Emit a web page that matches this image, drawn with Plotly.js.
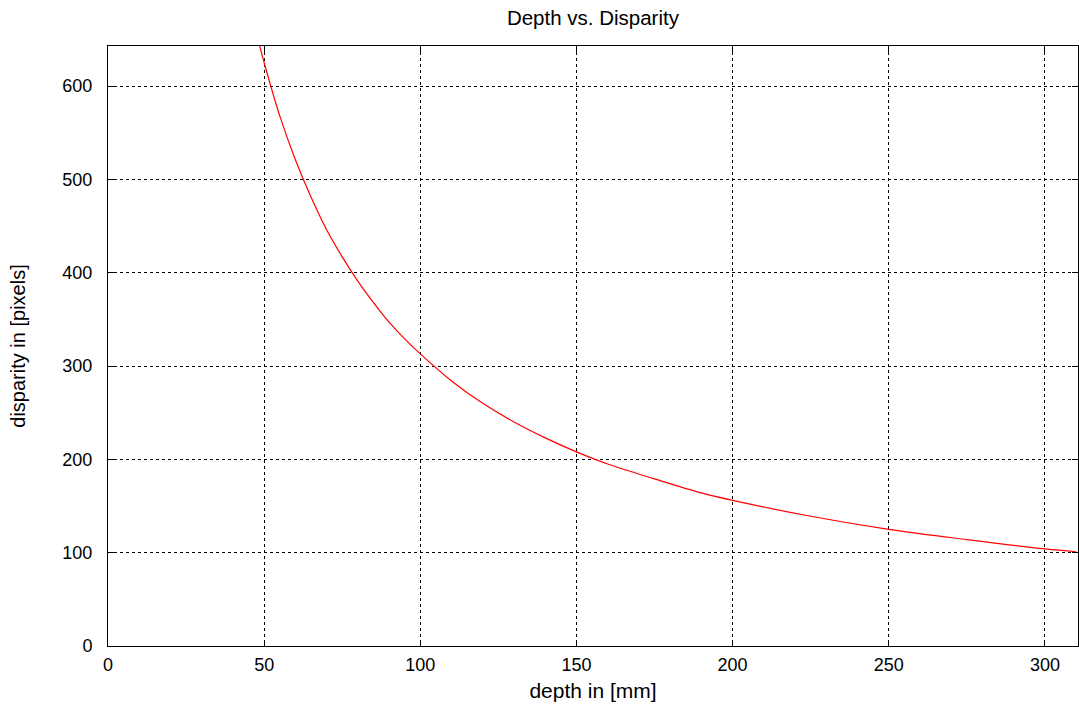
<!DOCTYPE html>
<html>
<head>
<meta charset="utf-8">
<script src="https://cdn.plot.ly/plotly-3.0.1.min.js"></script>
<style>html,body{margin:0;padding:0;background:#fff;}#chart{width:1079px;height:711px;}</style>
</head>
<body>
<div id="chart"></div>
<script>
// depth in mm
const depth = [48.5, 50, 55, 60, 65, 70, 75, 80, 85, 90, 95, 100, 110, 120, 130, 140, 150, 160, 175, 190, 200, 225, 250, 275, 300, 310];
// disparity in pixels
const disparity = [644, 625, 568, 521, 481, 446, 417, 391, 368, 347, 329, 313, 284, 260, 240, 223, 208, 195, 179, 164, 156, 139, 125, 114, 104, 101];
const xTicks = [0, 50, 100, 150, 200, 250, 300];
const yTicks = [0, 100, 200, 300, 400, 500, 600];

const fam = 'Liberation Sans, Arial, sans-serif';
const tickFont = {family: fam, size: 18, color: '#000'};
const axisBase = {
  showline: true, linecolor: '#000', linewidth: 1, mirror: 'ticks',
  ticks: 'inside', ticklen: 6, tickcolor: '#000', tickwidth: 1,
  showgrid: true, gridcolor: '#000', gridwidth: 1, griddash: 'dot',
  zeroline: false, tickfont: tickFont, fixedrange: true
};
Plotly.newPlot('chart', [{
  x: depth, y: disparity, type: 'scatter', mode: 'lines',
  line: {color: '#ff0000', width: 1.2, shape: 'spline', smoothing: 1},
  cliponaxis: true, showlegend: false, hoverinfo: 'x+y'
}], {
  width: 1079, height: 711,
  margin: {l: 108, r: 1, t: 46, b: 65},
  paper_bgcolor: '#fff', plot_bgcolor: '#fff',
  font: tickFont,
  title: {text: 'Depth vs. Disparity', font: {family: fam, size: 20.5, color: '#000'}, x: 0.5495, xanchor: 'center', y: 0.975, yanchor: 'middle'},
  xaxis: Object.assign({}, axisBase, {range: [0, 310.6], tickvals: xTicks, ticktext: xTicks.map(String), ticklabelstandoff: 2,
    title: {text: 'depth in [mm]', font: {family: fam, size: 21, color: '#000'}, standoff: 9}}),
  yaxis: Object.assign({}, axisBase, {range: [0, 642.9], tickvals: yTicks, ticktext: yTicks.map(String), ticklabelstandoff: 11,
    title: {text: 'disparity in [pixels]', font: {family: fam, size: 20, color: '#000'}, standoff: 31}})
}, {staticPlot: true});
</script>
</body>
</html>
